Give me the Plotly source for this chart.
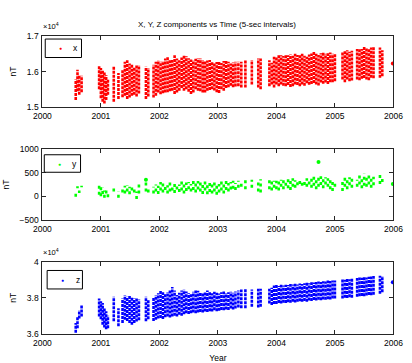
import plotly.graph_objects as go

# ---------------- data ----------------
# Each vertical strip = a column of 5-sec samples at one epoch: year, low, high (nT)
yr_x = [2000.57, 2000.60, 2000.63, 2000.67,
        2000.97, 2001.00, 2001.03, 2001.06, 2001.09, 2001.12, 2001.22, 2001.30,
        2001.37, 2001.41, 2001.45, 2001.49, 2001.53, 2001.57, 2001.61, 2001.65, 2001.77, 2001.81,
        2001.90, 2001.94, 2001.98, 2002.02, 2002.06, 2002.10, 2002.14, 2002.18, 2002.22, 2002.26,
        2002.30, 2002.34, 2002.38, 2002.42, 2002.46, 2002.50, 2002.54, 2002.58, 2002.62, 2002.66,
        2002.70, 2002.74, 2002.78, 2002.82, 2002.86, 2002.90, 2002.94, 2002.98, 2003.02, 2003.06,
        2003.10, 2003.14, 2003.18, 2003.22, 2003.26, 2003.30,
        2003.35, 2003.40, 2003.47, 2003.58, 2003.69, 2003.73, 2003.88, 2003.92, 2003.96,
        2004.00, 2004.04, 2004.08, 2004.12, 2004.16, 2004.20, 2004.24, 2004.28, 2004.32, 2004.36,
        2004.40, 2004.44, 2004.48, 2004.52, 2004.56, 2004.60, 2004.64, 2004.68, 2004.72, 2004.76,
        2004.80, 2004.84, 2004.88, 2004.92, 2004.96, 2005.00,
        2005.13, 2005.17, 2005.21, 2005.25, 2005.29, 2005.38, 2005.42, 2005.46, 2005.50, 2005.54,
        2005.58, 2005.62, 2005.66, 2005.77, 2005.81]

x_lo = [15200, 15450, 15350, 15420,
        15500, 15250, 15150, 15100, 15200, 15350, 15150, 15230,
        15280, 15320, 15230, 15270, 15320, 15350, 15300, 15380, 15230, 15300,
        15270, 15320, 15410, 15360, 15390, 15410, 15420, 15450, 15460, 15370,
        15410, 15460, 15540, 15460, 15500, 15430, 15370, 15410, 15500, 15460,
        15450, 15410, 15410, 15460, 15480, 15500, 15470, 15420, 15400, 15500,
        15460, 15540, 15560, 15600, 15560, 15580,
        15590, 15550, 15550, 15640, 15550, 15500, 15590, 15640, 15550,
        15640, 15590, 15640, 15600, 15590, 15620, 15570, 15590, 15640, 15620,
        15590, 15640, 15600, 15670, 15630, 15650, 15680, 15640, 15610, 15690,
        15660, 15690, 15650, 15700, 15700, 15730,
        15780, 15700, 15780, 15730, 15750, 15780, 15760, 15800, 15820, 15780,
        15760, 15830, 15810, 15830, 15870]

x_hi = [15780, 16050, 15900, 15880,
        16150, 16100, 16050, 15980, 15900, 15800, 16150, 15960,
        16050, 16280, 16320, 16230, 16190, 16140, 16180, 16180, 16140, 16100,
        16190, 16280, 16320, 16280, 16300, 16370, 16410, 16340, 16330, 16460,
        16370, 16320, 16400, 16460, 16430, 16380, 16340, 16320, 16360, 16380,
        16370, 16330, 16290, 16310, 16330, 16290, 16250, 16270, 16290, 16240,
        16300, 16310, 16280, 16230, 16260, 16280,
        16280, 16280, 16320, 16330, 16370, 16370, 16320, 16250, 16420,
        16420, 16460, 16460, 16440, 16470, 16460, 16480, 16450, 16500, 16470,
        16460, 16500, 16450, 16420, 16480, 16510, 16550, 16500, 16470, 16520,
        16540, 16500, 16520, 16540, 16500, 16490,
        16550, 16600, 16600, 16560, 16590, 16640, 16660, 16640, 16690, 16660,
        16640, 16680, 16690, 16680, 16600]

y_lo = [-10, 170, 70, 190,
        30, 0, 50, -30, 60, -20, 100, -30,
        80, 60, 100, 40, 120, 80, -60, 60, 100, 80,
        60, 100, 50, 120, 80, 130, 60, 100, 120, 70,
        140, 90, 120, 60, 110, 150, 100, 130, 80, 140,
        100, 50, 120, 40, 90, 60, 100, 30, 80, 120,
        60, 130, 100, 140, 160, 130,
        180, 200, 150, 180, 100, 80, 150, 120, 180,
        150, 120, 200, 150, 220, 170, 130, 200, 180, 230,
        260, 220, 240, 200, 250, 180, 220, 150, 200, 240,
        170, 250, 200, 150, 110, 200,
        110, 200, 150, 230, 180, 200, 250, 170, 220, 200,
        250, 180, 230, 260, 300]

y_hi = [60, 210, 120, 220,
        240, 200, 180, 120, 150, 60, 200, 100,
        150, 220, 240, 200, 250, 170, 100, 310, 350, 200,
        200, 250, 220, 300, 280, 260, 230, 290, 240, 300,
        270, 250, 330, 250, 290, 300, 260, 330, 280, 320,
        300, 240, 330, 260, 300, 250, 310, 280, 260, 330,
        290, 360, 280, 300, 330, 280,
        330, 300, 380, 350, 330, 360, 380, 360, 330,
        330, 370, 350, 380, 340, 400, 350, 380, 340, 300,
        330, 300, 350, 380, 340, 400, 440, 380, 450, 420,
        360, 400, 380, 340, 300, 320,
        300, 420, 360, 400, 380, 350, 450, 400, 480, 420,
        440, 380, 410, 480, 420]

z_lo = [36050, 36300, 36850, 36950,
        36950, 36800, 36500, 36350, 36250, 36300, 36690, 36420,
        36600, 36780, 36700, 36600, 36500, 36600, 36680, 36750, 36690, 36800,
        36700, 36780, 36850, 36870, 36820, 36920, 36960, 36900, 36960, 37000,
        36950, 37050, 37000, 37080, 37140, 37100, 37140, 37180, 37140, 37180,
        37200, 37180, 37230, 37200, 37250, 37230, 37300, 37250, 37280, 37320,
        37300, 37350, 37320, 37400, 37350, 37400,
        37450, 37420, 37410, 37500, 37450, 37500, 37680, 37600, 37650,
        37650, 37700, 37680, 37720, 37700, 37750, 37720, 37780, 37740, 37780,
        37800, 37770, 37820, 37780, 37850, 37820, 37870, 37840, 37880, 37860,
        37900, 37880, 37920, 37900, 37950, 37960,
        37950, 38000, 37980, 38020, 38000, 38050, 38080, 38100, 38080, 38120,
        38150, 38130, 38170, 38220, 38300]

z_hi = [36600, 36950, 37300, 37600,
        37950, 37800, 37700, 37450, 37250, 37000, 38050, 37410,
        37950, 38130, 38050, 38100, 38050, 37950, 38000, 37900, 38050, 37900,
        38000, 38140, 38250, 38400, 38300, 38250, 38320, 38450, 38590, 38400,
        38150, 38280, 38400, 38440, 38350, 38250, 38220, 38330, 38400, 38380,
        38300, 38230, 38330, 38400, 38300, 38250, 38330, 38280, 38230, 38300,
        38350, 38260, 38300, 38330, 38280, 38350,
        38400, 38450, 38500, 38450, 38500, 38500, 38500, 38550, 38680,
        38700, 38650, 38720, 38680, 38720, 38700, 38760, 38740, 38770, 38730,
        38790, 38760, 38800, 38830, 38800, 38860, 38840, 38870, 38900, 38880,
        38920, 38900, 38950, 38930, 38960, 38950,
        39040, 39000, 39060, 39020, 39050, 39100, 39130, 39110, 39150, 39130,
        39160, 39180, 39200, 39220, 39200]

# isolated single samples
iso_x_yr = [2005.99]
iso_x_val = [16230]
iso_y_yr = [2004.72, 2001.77, 2005.99]
iso_y_val = [725, 346, 260]
iso_z_yr = [2005.99]
iso_z_val = [38860]

x_ticks = [2000, 2001, 2002, 2003, 2004, 2005, 2006]
xx_tickvals = [15000, 16000, 17000]
xx_ticktext = ["1.5", "1.6", "1.7"]
yy_tickvals = [-500, 0, 500, 1000]
zz_tickvals = [36000, 38000, 40000]
zz_ticktext = ["3.6", "3.8", "4"]
series_names = ["x", "y", "z"]
series_colors = ["red", "#00ff00", "blue"]

title_text = "X, Y, Z components vs Time (5-sec intervals)"

# ---------------- figure ----------------
W, H = 412, 363
FONT = "Liberation Sans, Arial, sans-serif"
AX = "#262626"
TF = 8.5

def px(x):
    return x / W

def py(y):
    return 1 - y / H

def strips(yrs, lo, hi):
    xs, ys = [], []
    for t, a, b in zip(yrs, lo, hi):
        xs += [t, t, None]
        ys += [a, b, None]
    return xs, ys

fig = go.Figure()
panels = [
    (yr_x, x_lo, x_hi, iso_x_yr, iso_x_val, "x", "y", "3px,1px"),
    (yr_x, y_lo, y_hi, iso_y_yr, iso_y_val, "x2", "y2", "3px,3px"),
    (yr_x, z_lo, z_hi, iso_z_yr, iso_z_val, "x3", "y3", "3px,1px"),
]
for (yrs, lo, hi, iyr, ival, xa, ya, dash), name, col in zip(panels, series_names, series_colors):
    sx, sy = strips(yrs, lo, hi)
    fig.add_trace(go.Scatter(x=sx, y=sy, mode="lines", xaxis=xa, yaxis=ya,
                             line=dict(color=col, width=2.6, dash=dash),
                             name=name, showlegend=False, hoverinfo="skip"))
    fig.add_trace(go.Scatter(x=iyr, y=ival, mode="markers", xaxis=xa, yaxis=ya,
                             marker=dict(color=col, size=4), name=name,
                             showlegend=False))

xdom = [px(35), px(403)]
def ydom(top, bot):
    return [py(bot), py(top)]

common_x = dict(range=[2000, 2006], tickvals=x_ticks, ticks="inside", ticklen=4,
                showline=True, linecolor=AX, linewidth=1, mirror="ticks",
                tickcolor=AX, showgrid=False, zeroline=False, ticklabeloverflow="allow",
                ticklabelstandoff=1,
                tickfont=dict(size=TF, color="black"), domain=xdom)
common_y = dict(ticks="inside", ticklen=4, showline=True, linecolor=AX, linewidth=1,
                mirror="ticks", tickcolor=AX, showgrid=False, zeroline=False,
                ticklabelstandoff=1,
                tickfont=dict(size=TF, color="black"),
                title=dict(text="nT", font=dict(size=TF, color="black"), standoff=8))

# MATLAB-style legend boxes (box, marker, label) for each panel
legend_boxes = [(38, 76, 35, 54), (37, 75, 154, 172), (40, 77, 273, 292)]
shapes, annotations = [], []
for (x0, x1, y0, y1), name, col in zip(legend_boxes, series_names, series_colors):
    shapes.append(dict(type="rect", xref="paper", yref="paper",
                       x0=px(x0), x1=px(x1), y0=py(y1), y1=py(y0),
                       line=dict(color="black", width=1), fillcolor="white"))
    ym = (y0 + y1) / 2
    annotations.append(dict(text="\u25cf", x=px(x0 + 16), y=py(ym), xref="paper", yref="paper",
                            showarrow=False, xanchor="center", yanchor="middle",
                            font=dict(size=5, color=col)))
    annotations.append(dict(text=name, x=px(x0 + 32), y=py(ym), xref="paper", yref="paper",
                            showarrow=False, xanchor="center", yanchor="middle",
                            font=dict(size=TF, color="black")))

annotations += [
    dict(text=title_text, x=px(218), y=py(20), xref="paper", yref="paper",
         showarrow=False, xanchor="center", yanchor="middle",
         font=dict(size=8, color="black")),
    dict(text="\u00d710<sup>4</sup>", x=px(34), y=py(29), xref="paper", yref="paper",
         showarrow=False, xanchor="left", yanchor="bottom", font=dict(size=7.5)),
    dict(text="\u00d710<sup>4</sup>", x=px(34), y=py(261), xref="paper", yref="paper",
         showarrow=False, xanchor="left", yanchor="bottom", font=dict(size=7.5)),
]

fig.update_layout(
    width=W, height=H, margin=dict(l=0, r=0, t=0, b=0),
    paper_bgcolor="white", plot_bgcolor="white",
    font=dict(family=FONT, size=TF, color="black"),
    showlegend=False,
    xaxis=dict(common_x, anchor="y"),
    xaxis2=dict(common_x, anchor="y2"),
    xaxis3=dict(common_x, anchor="y3",
                title=dict(text="Year", font=dict(size=TF), standoff=9)),
    yaxis=dict(common_y, anchor="x", domain=ydom(32, 105), range=[15000, 17000],
               tickvals=xx_tickvals, ticktext=xx_ticktext),
    yaxis2=dict(common_y, anchor="x2", domain=ydom(148, 221), range=[-500, 1000],
                tickvals=yy_tickvals),
    yaxis3=dict(common_y, anchor="x3", domain=ydom(264, 338), range=[36000, 40000],
                tickvals=zz_tickvals, ticktext=zz_ticktext),
    shapes=shapes,
    annotations=annotations,
)

fig.write_html("out.html")
